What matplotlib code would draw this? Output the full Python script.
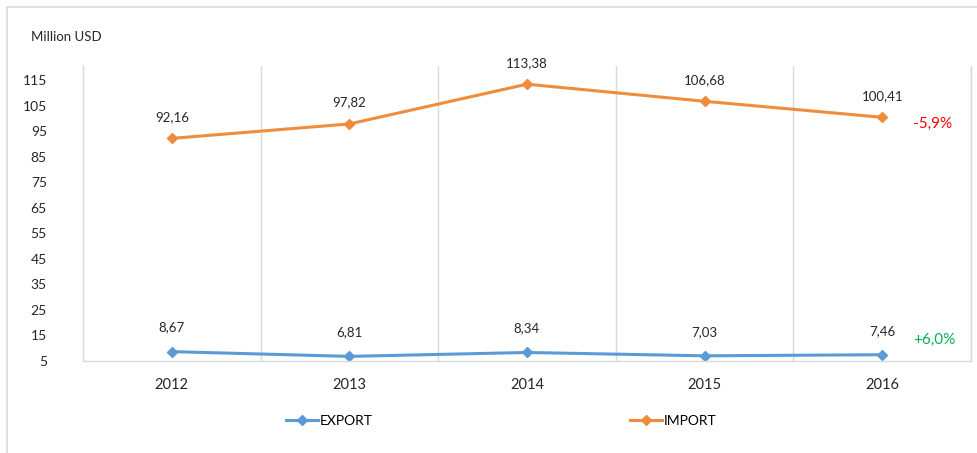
import matplotlib
matplotlib.use("Agg")
import matplotlib.pyplot as plt
from matplotlib.patches import Rectangle

years = ["2012", "2013", "2014", "2015", "2016"]
export_vals = [8.67, 6.81, 8.34, 7.03, 7.46]
import_vals = [92.16, 97.82, 113.38, 106.68, 100.41]
export_labels = ["8,67", "6,81", "8,34", "7,03", "7,46"]
import_labels = ["92,16", "97,82", "113,38", "106,68", "100,41"]
yticks = list(range(5, 116, 10))
export_change = "+6,0%"
import_change = "-5,9%"

plt.rcParams['font.family'] = ['Lato', 'DejaVu Sans']

c_exp = '#5B9BD5'
c_imp = '#F08C3C'
grid_c = '#D9D9D9'

fig = plt.figure(figsize=(9.78, 4.53), dpi=100)
# chart border
fig.patches.append(Rectangle((7/978, -0.1), 1.2, (453-7)/453 + 0.1, transform=fig.transFigure,
                             fill=False, edgecolor=grid_c, linewidth=1.2))

ax = fig.add_axes([83/978, (453-361)/453, (971-83)/978, (361-66)/453])
x = list(range(len(years)))

ax.plot(x, export_vals, color=c_exp, lw=2.2, marker='D', ms=5.5, label='EXPORT')
ax.plot(x, import_vals, color=c_imp, lw=2.2, marker='D', ms=5.5, label='IMPORT')

for xi, v, t in zip(x, export_vals, export_labels):
    ax.annotate(t, (xi, v), xytext=(0, 13), textcoords='offset points',
                ha='center', va='bottom', fontsize=9.5, color='#262626')
for xi, v, t in zip(x, import_vals, import_labels):
    ax.annotate(t, (xi, v), xytext=(0, 11), textcoords='offset points',
                ha='center', va='bottom', fontsize=9.5, color='#262626')

ax.annotate(import_change, (x[-1], import_vals[-1]), xytext=(22, -5), textcoords='offset points',
            ha='left', va='center', fontsize=11, color='#FF0000')
ax.annotate(export_change, (x[-1], export_vals[-1]), xytext=(22, 11), textcoords='offset points',
            ha='left', va='center', fontsize=11, color='#00B050')

ax.set_xlim(-0.5, len(years) - 0.5)
ax.set_ylim(5, 120.5)
ax.set_yticks(yticks)
ax.set_yticklabels([str(t) for t in yticks], fontsize=10, color='#262626')
ax.set_xticks(x)
ax.set_xticklabels(years, fontsize=10.5, color='#262626')
ax.tick_params(axis='both', length=0)
ax.tick_params(axis='y', pad=26)
ax.tick_params(axis='x', pad=12)

for b in [i + 0.5 for i in x]:
    ax.axvline(b, color=grid_c, lw=1, zorder=0)
for s in ['top']:
    ax.spines[s].set_visible(False)
for s in ['left', 'right', 'bottom']:
    ax.spines[s].set_color(grid_c)
    ax.spines[s].set_linewidth(1)

fig.text(31/978, 1 - 37/453, 'Million USD', fontsize=9.5, color='#262626', va='center')

fig.legend(loc='center', bbox_to_anchor=(501/978, 1 - 421/453), ncol=2, frameon=False,
           fontsize=10, columnspacing=18.5, handlelength=2.3, handletextpad=0.15)

fig.savefig('out.png', dpi=100)
